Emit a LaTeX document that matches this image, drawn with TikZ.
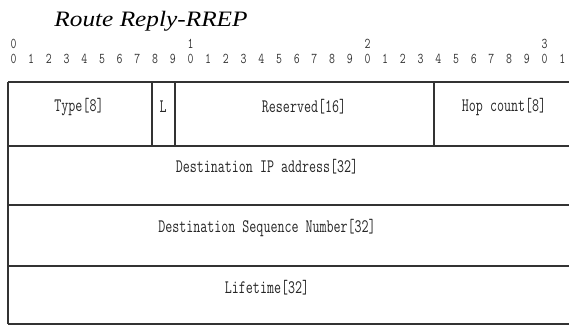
\documentclass[tikz,border=0pt]{standalone}
\usepackage{fontspec}
\usepackage{graphicx}
\setmainfont{Liberation Serif}
\newfontfamily\titlefont{Liberation Serif Italic}
\newcommand{\fld}[1]{\scalebox{1}[1.4]{#1}}
\newcommand{\bitn}[1]{\scalebox{1}[1.3]{#1}}
\begin{document}
\begin{tikzpicture}[x=1pt,y=-1pt,
  hline/.style={line width=1.8pt,draw=black!80},
  vline/.style={line width=1.3pt,draw=black!80},
  field/.style={font=\ttfamily\fontsize{13.6}{13.6}\selectfont,inner sep=0pt,text=black!85},
  bitnum/.style={font=\ttfamily\fontsize{11.5}{11.5}\selectfont,inner sep=0pt,text=black!80},
  title/.style={font=\titlefont\fontsize{22}{22}\selectfont,inner sep=0pt}]
\useasboundingbox (0,0) rectangle (569,326);
\node[title,anchor=base] (title) at (151,27) {\scalebox{1.15}[1]{Route Reply-RREP}};
% bit numbers
\foreach \i in {0,...,31}{
  \pgfmathtruncatemacro{\d}{mod(\i,10)}
  \node[bitnum] (b\i) at ({13.5+17.7*\i},59) {\bitn{\d}};
}
\foreach \i/\t in {0/0,10/1,20/2,30/3}{
  \node[bitnum] (t\i) at ({13.5+17.7*\i},44) {\bitn{\t}};
}
% table corners
\coordinate (r0l) at (8,82);  \coordinate (r0r) at (569,82);
\coordinate (r1l) at (8,146); \coordinate (r1r) at (569,146);
\coordinate (r2l) at (8,205); \coordinate (r2r) at (569,205);
\coordinate (r3l) at (8,266); \coordinate (r3r) at (569,266);
\coordinate (r4l) at (8,324); \coordinate (r4r) at (569,324);
\foreach \r in {0,1,2,3,4}{\draw[hline] (r\r l) -- (r\r r);}
\draw[vline] (r0l) -- (r4l);
\coordinate (v1t) at (152,82); \coordinate (v1b) at (152,146);
\coordinate (v2t) at (175,82); \coordinate (v2b) at (175,146);
\coordinate (v3t) at (434,82); \coordinate (v3b) at (434,146);
\draw[vline] (v1t) -- (v1b);
\draw[vline] (v2t) -- (v2b);
\draw[vline] (v3t) -- (v3b);
% fields
\node[field] (type) at (79,107) {\fld{Type[8]}};
\node[field] (l) at (163,107) {\fld{L}};
\node[field] (res) at (304,107) {\fld{Reserved[16]}};
\node[field] (hop) at (504,107) {\fld{Hop count[8]}};
\node[field] (dip) at (267,167) {\fld{Destination IP address[32]}};
\node[field] (dsn) at (267,228) {\fld{Destination Sequence Number[32]}};
\node[field] (life) at (267,288) {\fld{Lifetime[32]}};
\end{tikzpicture}
\end{document}
